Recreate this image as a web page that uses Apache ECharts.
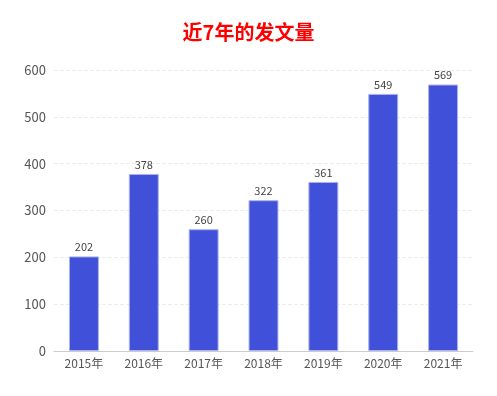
<!DOCTYPE html>
<html><head><meta charset="utf-8">
<script src="https://cdn.jsdelivr.net/npm/echarts@6/dist/echarts.min.js"></script>
<style>html,body{margin:0;padding:0;}#c{width:497px;height:396px;}</style>
</head><body><div id="c"></div>
<script>
const categories = ['2015年','2016年','2017年','2018年','2019年','2020年','2021年'];
const values = [202, 378, 260, 322, 361, 549, 569];
const FONT = 'Noto Sans CJK SC';
const chart = echarts.init(document.getElementById('c'));
chart.setOption({
  textStyle: {fontFamily: FONT},
  title: {text: '近7年的发文量', left: 'center', top: 17,
    textStyle: {color: '#ff0000', fontSize: 20, fontWeight: 'bold', fontFamily: FONT}},
  grid: {left: 54, right: 24, top: 70, bottom: 45},
  xAxis: {type: 'category', data: categories,
    axisTick: {alignWithLabel: true, lineStyle: {color: '#ccc'}},
    axisLine: {lineStyle: {color: '#ccc'}},
    axisLabel: {color: '#555', fontSize: 12, fontFamily: FONT, margin: 6}},
  yAxis: {type: 'value', min: 0, max: 600, interval: 100,
    axisLabel: {color: '#555', fontSize: 13, fontFamily: FONT, margin: 8},
    splitLine: {lineStyle: {type: 'dashed', color: '#ececec'}}},
  series: [{type: 'bar', data: values, barWidth: '50%',
    itemStyle: {color: '#4050d8', borderColor: '#aab2f0', borderWidth: 1},
    label: {show: true, position: 'top', color: '#444', fontSize: 11, fontFamily: FONT, distance: 4}}]
});
</script></body></html>
